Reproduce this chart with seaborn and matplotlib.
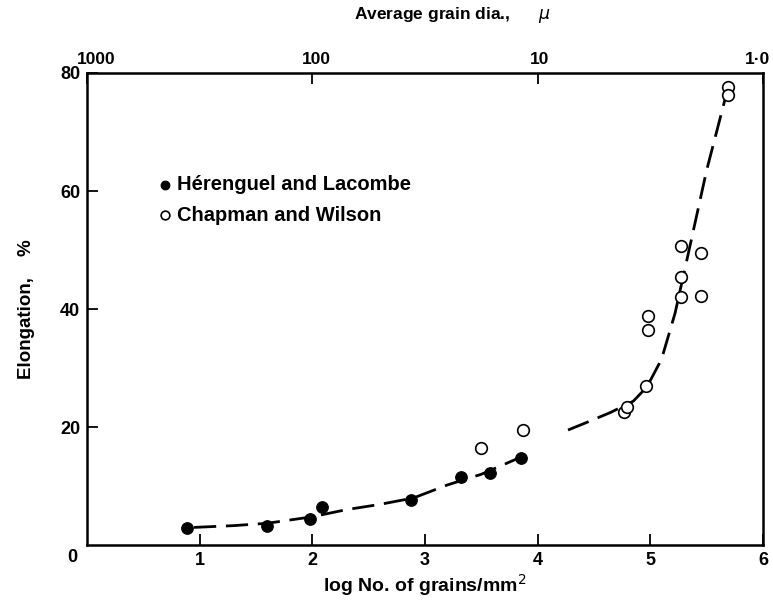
import matplotlib
matplotlib.use("Agg")
import matplotlib.pyplot as plt
import matplotlib.transforms as mtransforms
import seaborn as sns
import pandas as pd

# ---- data ----
herenguel_x = [0.89, 1.60, 1.98, 2.09, 2.88, 3.32, 3.58, 3.85]
herenguel_y = [2.9, 3.2, 4.4, 6.4, 7.6, 11.5, 12.2, 14.7]

chapman_x = [3.50, 3.87, 4.77, 4.79, 4.96, 4.98, 4.98, 5.27, 5.27, 5.27, 5.45, 5.45, 5.69, 5.69]
chapman_y = [16.4, 19.5, 22.5, 23.4, 27.0, 38.8, 36.4, 50.7, 45.4, 42.0, 49.5, 42.2, 77.6, 76.3]

curve1_x = [0.95, 1.3, 1.6, 2.0, 2.3, 2.6, 2.9, 3.2, 3.5, 3.85]
curve1_y = [3.0, 3.3, 3.7, 4.8, 6.0, 6.9, 8.0, 10.2, 12.0, 14.9]

curve2_x = [4.27, 4.45, 4.65, 4.85, 4.97, 5.10, 5.22, 5.35, 5.50, 5.69]
curve2_y = [19.5, 20.9, 22.5, 24.4, 26.8, 31.5, 39.3, 50.5, 63.5, 77.5]

x_ticks = [1, 2, 3, 4, 5, 6]
x_ticklabels = ["1", "2", "3", "4", "5", "6"]
y_ticks = [20, 40, 60, 80]
y_ticklabels = ["20", "40", "60", "80"]
top_ticks = [0, 2, 4, 6]
top_ticklabels = ["1000", "100", "10", "1·0"]

labels = ["Hérenguel and Lacombe", "Chapman and Wilson"]

# ---- plotting ----
sns.set_style("ticks")
plt.rcParams["font.family"] = ["Liberation Sans", "DejaVu Sans"]
plt.rcParams.update({
    "xtick.direction": "in", "ytick.direction": "in",
    "text.color": "black", "axes.labelcolor": "black",
    "xtick.color": "black", "ytick.color": "black",
    "axes.edgecolor": "black",
})
NARROW = ["Liberation Sans Narrow", "Liberation Sans", "DejaVu Sans"]

fig = plt.figure(figsize=(7.73, 6.03), dpi=100)
ax = fig.add_axes([0.1125, 0.096, 0.8745, 0.783])

df_h = pd.DataFrame({"x": herenguel_x, "y": herenguel_y})
df_c = pd.DataFrame({"x": chapman_x, "y": chapman_y})
df_c1 = pd.DataFrame({"x": curve1_x, "y": curve1_y})
df_c2 = pd.DataFrame({"x": curve2_x, "y": curve2_y})

for d in (df_c1, df_c2):
    sns.lineplot(data=d, x="x", y="y", ax=ax, color="black", lw=2.0,
                 sort=False, estimator=None, legend=False)
for ln in ax.lines:
    ln.set_dashes([8, 3.5])

sns.scatterplot(data=df_h, x="x", y="y", ax=ax, s=70, color="black",
                edgecolor="black", linewidth=0.8, zorder=3, label=labels[0])
sns.scatterplot(data=df_c, x="x", y="y", ax=ax, s=70, facecolor="white",
                edgecolor="black", linewidth=1.2, zorder=3, label=labels[1])

ax.set_xlim(0, 6)
ax.set_ylim(0, 80)

ax.set_xticks(x_ticks)
ax.set_xticklabels(x_ticklabels)
ax.set_yticks(y_ticks)
ax.set_yticklabels(y_ticklabels)
ax.tick_params(axis="both", which="both", direction="in", length=8, width=1.3,
               labelsize=13, colors="black")
ax.tick_params(axis="x", pad=5)
ax.tick_params(axis="y", pad=5)
for lab in ax.get_xticklabels() + ax.get_yticklabels():
    lab.set_fontweight("bold")

ax.text(-0.022, -0.026, "0", transform=ax.transAxes, ha="center", va="center",
        fontsize=13, fontweight="bold")

for sp in ax.spines.values():
    sp.set_linewidth(1.8)
    sp.set_visible(True)
    sp.set_color("black")

sec = ax.secondary_xaxis("top")
sec.set_xticks(top_ticks)
sec.set_xticklabels(top_ticklabels)
sec.tick_params(direction="in", length=8, width=1.3, labelsize=12.5, pad=4,
                colors="black")
sec_labels = sec.get_xticklabels()
for lab in sec_labels:
    lab.set_fontweight("bold")
offs = [9, 4, 2, -5]
for lab, o in zip(sec_labels, offs):
    lab.set_transform(lab.get_transform() +
                      mtransforms.ScaledTranslation(o / 100, 0, fig.dpi_scale_trans))

ax.set_xlabel("log No. of grains/mm$^2$", fontsize=14, labelpad=2,
              fontweight="bold", family=NARROW)
ax.set_ylabel("Elongation,    %", fontsize=13.5, labelpad=18,
              fontweight="bold", family=NARROW)
fig.text(0.585, 0.975, "Average grain dia.,      $\\mu$", ha="center", va="center",
         fontsize=12.5, fontweight="bold", family=NARROW)

leg = ax.legend(loc="upper left", bbox_to_anchor=(0.089, 0.80), frameon=False,
                prop={"size": 14.5, "weight": "bold", "family": NARROW},
                handlelength=1.0, handletextpad=0.1, markerscale=0.75,
                labelspacing=0.55, borderaxespad=0)

fig.savefig("out.png", dpi=100)
